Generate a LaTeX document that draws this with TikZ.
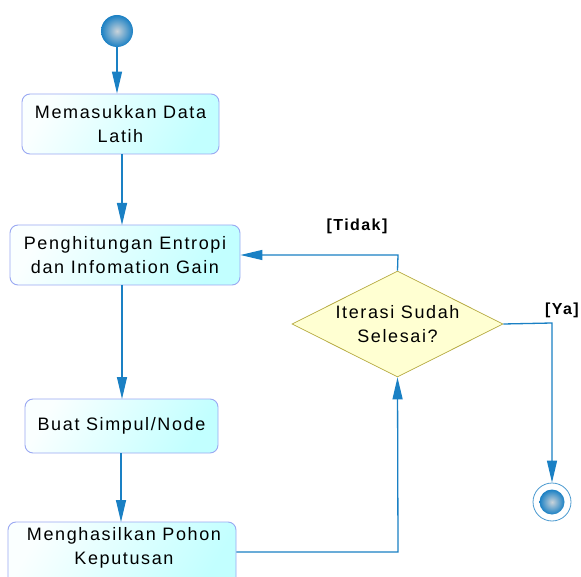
\documentclass[tikz,border=0pt]{standalone}
\usepackage{fontspec}
\setmainfont{Liberation Sans}
\newfontfamily\diafont[LetterSpace=9]{Liberation Sans}
\newfontfamily\guardfont[LetterSpace=9]{Liberation Sans}
\usetikzlibrary{arrows.meta,shapes.geometric}
\definecolor{lineblue}{HTML}{1A80C4}
\definecolor{boxedge}{HTML}{9AA8F2}
\definecolor{diafill}{HTML}{FFFFD2}
\definecolor{diaedge}{HTML}{B4A83C}
\definecolor{ballin}{HTML}{C9D3DA}
\definecolor{ringblue}{HTML}{4A9AD0}
\tikzset{
  diatext/.style={font=\diafont\fontsize{18}{24}\selectfont},
  actbox/.style={draw=boxedge, line width=0.9pt, rounded corners=8pt,
    left color=cyan!2, right color=cyan!24, shading angle=60,
    align=center, diatext, inner sep=0pt},
  decis/.style={diamond, draw=diaedge, fill=diafill, line width=0.7pt, aspect=2,
    align=center, diatext, inner sep=0pt},
  flow/.style={draw=lineblue, line width=1.3pt, -{Triangle[length=22pt,width=10pt]}},
  guard/.style={font=\guardfont\bfseries\fontsize{16}{18}\selectfont}
}
\begin{document}
\begin{tikzpicture}[x=1pt,y=-1pt]
\clip (0,0) rectangle (581,577);
\fill[white] (0,0) rectangle (581,577);
% start
\shade[inner color=ballin, outer color=lineblue] (117,31) circle (16);
\node[circle, minimum size=32pt, inner sep=0pt] (start) at (117,31) {};
% boxes
\node[actbox, minimum width=197pt, minimum height=60pt] (b1) at (120.5,124) {Memasukkan Data\\Latih};
\node[actbox, minimum width=230pt, minimum height=60pt] (b2) at (125,255) {Penghitungan Entropi\\dan Infomation Gain};
\node[actbox, minimum width=193pt, minimum height=54pt] (b3) at (121.5,426) {Buat Simpul/Node};
\node[actbox, minimum width=228pt, minimum height=70pt] (b4) at (122,557) {};
\node[diatext, align=center] (b4t) at (124,548) {Menghasilkan Pohon\\Keputusan};
% decision
\node[decis, minimum width=211pt, minimum height=106pt] (d) at (397.5,324) {Iterasi Sudah\\Selesai?};
% final
\node[circle, draw=ringblue, line width=0.8pt, fill=white, minimum size=38pt, inner sep=0pt] (fin) at (552,502) {};
\shade[inner color=ballin, outer color=lineblue] (552,502) circle (12.5);
% coordinates
\coordinate (c1) at (398,255);
\coordinate (c2) at (552,323);
\coordinate (c3) at (398,552);
% connectors
\draw[flow] (start.south) -- (start.south |- b1.north);
\draw[flow] (122,154) -- (122,225);
\draw[flow] (122,285) -- (122,399);
\draw[flow] (121,453) -- (121,522);
\draw[flow] (b4.east |- c3) -- (c3) -- (d.south);
\draw[flow] (d.north) -- (c1) -- (b2.east |- c1);
\draw[flow] (d.east) -- (c2) -- (fin.north);
% guards
\node[guard] (gt) at (357,226) {[Tidak]};
\node[guard] (gy) at (562,310) {[Ya]};
\end{tikzpicture}
\end{document}
